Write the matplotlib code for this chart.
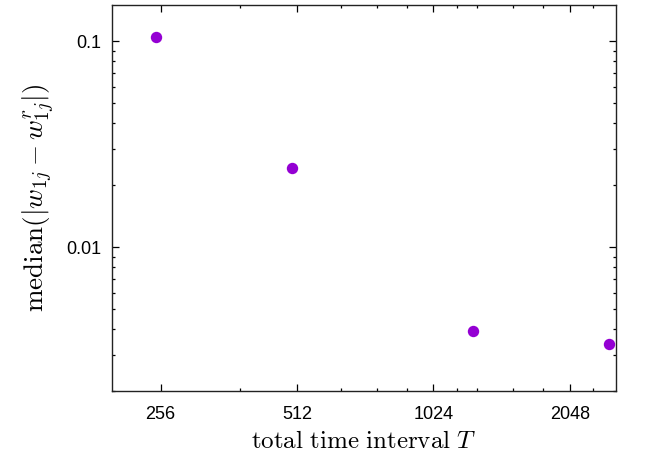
import numpy as np
import matplotlib.pyplot as plt
from matplotlib.ticker import FixedLocator, NullFormatter, LogLocator

plt.rcParams['mathtext.fontset'] = 'cm'
plt.rcParams['font.family'] = ['Liberation Sans', 'DejaVu Sans']

# median weight error against total time interval
T = [250, 500, 1250, 2500]
err = [0.105, 0.0242, 0.00392, 0.00338]

major_x = [256, 512, 1024, 2048]
minor_x = [384, 640, 768, 896, 1152, 1280, 1536, 1792, 2304]
major_y = [0.01, 0.1]
ylabels = ['0.01', '0.1']

fig = plt.figure(figsize=(6.53, 4.57), dpi=100)
ax = fig.add_axes([0.1715, 0.1444, 0.7718, 0.8446])

ax.plot(T, err, 'o', color='#9400d3', markersize=8.2, markeredgewidth=0)

ax.set_xscale('log', base=2)
ax.set_yscale('log')
ax.set_xlim(200, 2590)
ax.set_ylim(0.002, 0.15)

ax.xaxis.set_major_locator(FixedLocator(major_x))
ax.xaxis.set_minor_locator(FixedLocator(minor_x))
ax.xaxis.set_minor_formatter(NullFormatter())
ax.set_xticklabels([str(v) for v in major_x])
ax.yaxis.set_major_locator(FixedLocator(major_y))
ax.yaxis.set_minor_locator(LogLocator(base=10, subs=np.arange(2, 10)))
ax.yaxis.set_minor_formatter(NullFormatter())
ax.set_yticklabels(ylabels)

ax.tick_params(which='both', direction='in', top=True, right=True, labelsize=13, width=0.9)
ax.tick_params(which='major', length=5, pad=8)
ax.tick_params(axis='x', which='major', pad=11)
ax.tick_params(which='minor', length=2.5)
for s in ax.spines.values():
    s.set_linewidth(1.0)
    s.set_color('#222222')

ax.set_xlabel(r'$\mathrm{total\ time\ interval}\ T$', fontsize=18, labelpad=4)
ax.set_ylabel(r'$\mathrm{median}(|w_{1j}-w^r_{1j}|)$', fontsize=19.5, labelpad=6)

fig.savefig('out.png', dpi=100)
